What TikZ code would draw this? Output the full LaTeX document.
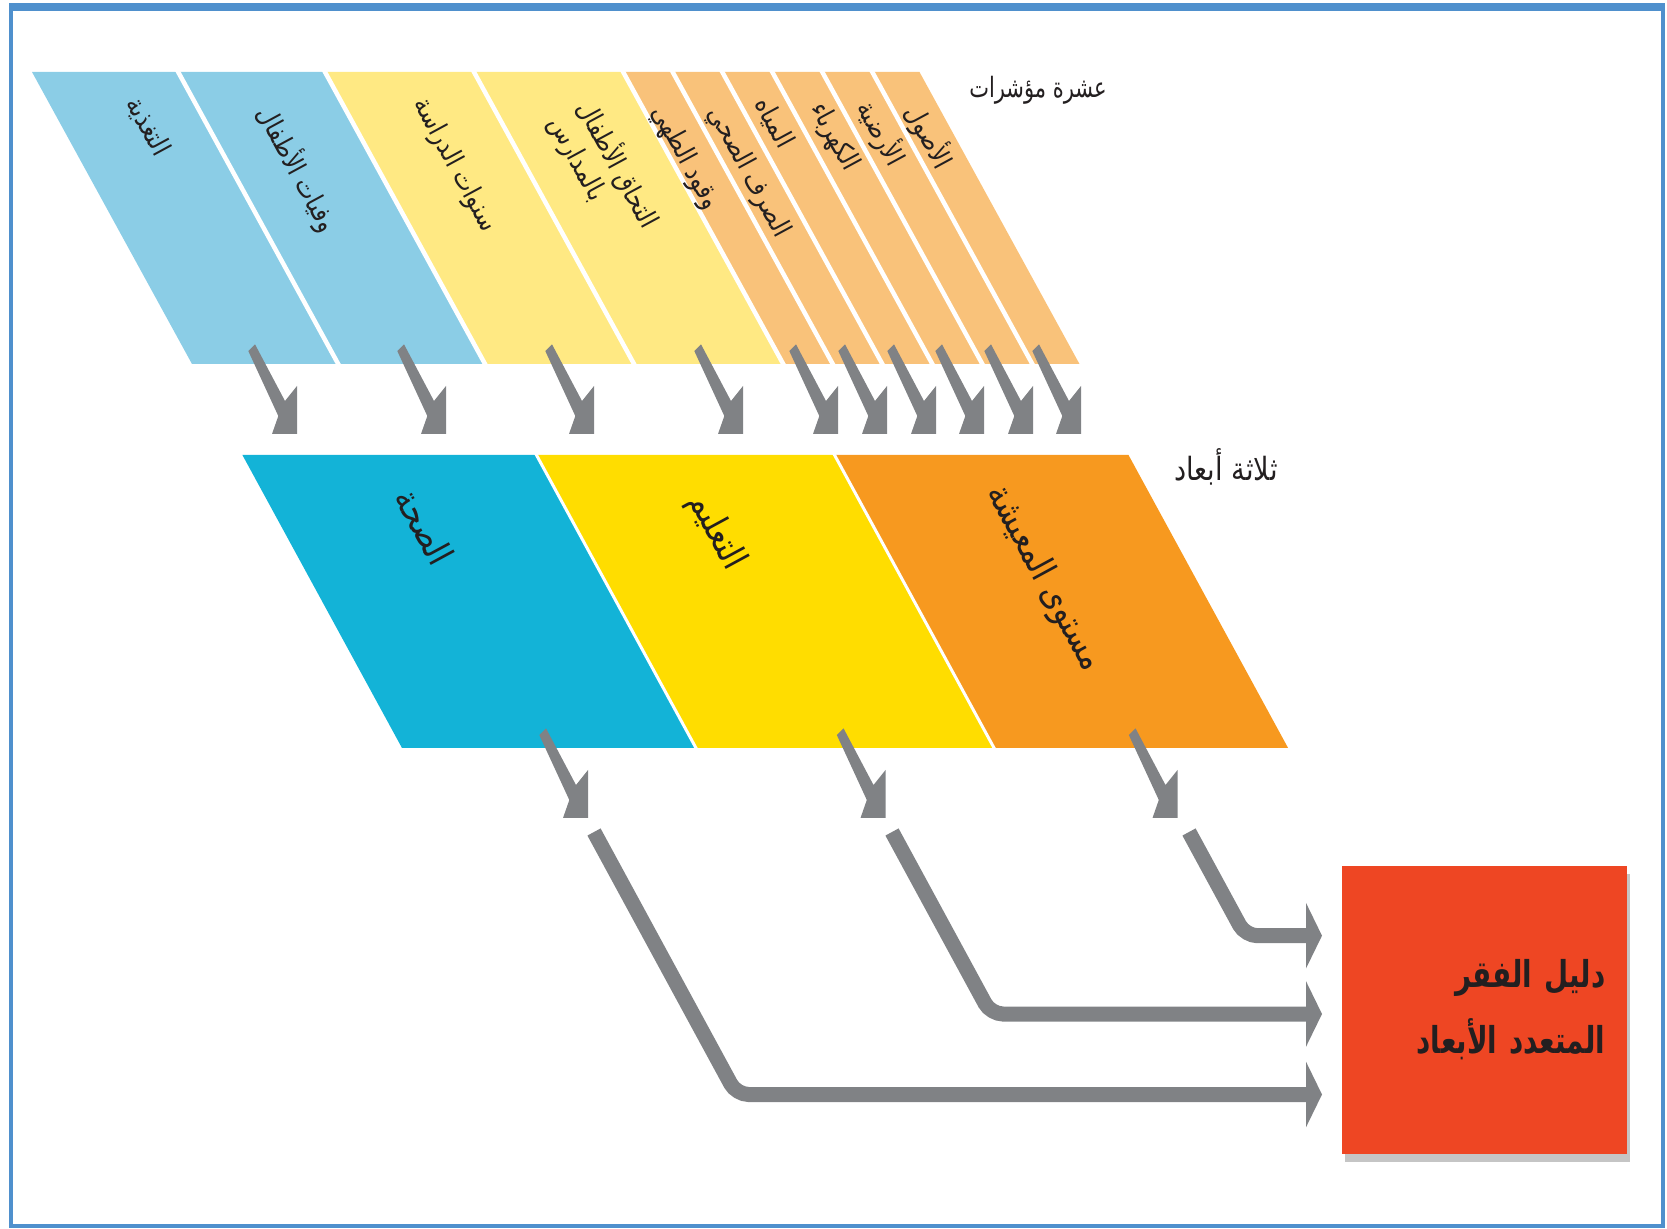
\documentclass[tikz,border=0pt]{standalone}
\usepackage{fontspec}
\usetikzlibrary{arrows.meta,shadows}
\newfontfamily\arabicfont[Script=Arabic]{DejaVu Sans}
\newfontfamily\arabiccond[Script=Arabic, FakeStretch=0.85]{DejaVu Sans}
\newfontfamily\arabicnarrow[Script=Arabic, FakeStretch=0.75]{DejaVu Sans}
\TeXXeTstate=1
\definecolor{lblue}{HTML}{8BCDE6}
\definecolor{lyellow}{HTML}{FFE983}
\definecolor{lorange}{HTML}{F9C27A}
\definecolor{dblue}{HTML}{13B3D7}
\definecolor{dyellow}{HTML}{FFDD00}
\definecolor{dorange}{HTML}{F7991F}
\definecolor{mpired}{HTML}{EE4623}
\definecolor{arrowgrey}{HTML}{808285}
\definecolor{frameblue}{HTML}{4F90CD}
\definecolor{txtcol}{HTML}{231F20}
\newcommand\dnarrow[2]{\fill[arrowgrey, shift={(#1,#2)}] (-48.7,-83) -- (-42,-89.7) -- (-12,-33) -- (0,-48) -- (0,0) -- (-25,0) -- (-18.7,-18) -- cycle;}
\begin{document}
\begin{tikzpicture}[x=0.5pt,y=-0.5pt,
  indtext/.style={rotate=-61.5, font=\arabiccond\fontsize{13.5}{16}\selectfont, text=txtcol, inner sep=0pt, align=left},
  dimtext/.style={rotate=-61.5, font=\arabiccond\fontsize{18}{20}\selectfont, text=txtcol, inner sep=0pt},
  lbltext/.style={font=\arabicnarrow\fontsize{14}{16}\selectfont, text=txtcol, inner sep=0pt},
  sepline/.style={white, line width=2.25pt},
  bent/.style={draw=arrowgrey, line width=7.5pt, rounded corners=6pt, -{Triangle[length=8pt,width=32.5pt]}}
]
\useasboundingbox (0,0) rectangle (1667,1229);
% frame
\draw[frameblue, line width=2pt] (10.5,7) rectangle (1663,1226);
\fill[frameblue] (8.5,3) rectangle (1665,11);

% ten indicators
\fill[lblue]   (32,72) -- (325,72) -- (485,364) -- (192,364) -- cycle;
\fill[lyellow] (325,72) -- (623.2,72) -- (783.2,364) -- (485,364) -- cycle;
\fill[lorange] (623.2,72) -- (919.5,72) -- (1079.5,364) -- (783.2,364) -- cycle;
\foreach \s in {178.2,325,474,623.2,672.7,722.3,772.3,822.3,872.3}
  {\draw[sepline] (\s-6.6,60) -- (\s+166.6,376);}

\node[indtext] (t1) at (148,126.5) {\beginR التغذية\endR};
\node[indtext] (t2) at (297.5,169) {\beginR وفيات الأطفال\endR};
\node[indtext] (t3) at (454.5,165) {\beginR سنوات الدراسة\endR};
\node[indtext] (t4) at (604,172) {\beginR التحاق الأطفال\endR\\\beginR بالمدارس\endR};
\node[indtext] (t5) at (685,158) {\beginR وقود الطهي\endR};
\node[indtext] (t6) at (748.5,172.5) {\beginR الصرف الصحي\endR};
\node[indtext] (t7) at (774,123) {\beginR المياه\endR};
\node[indtext] (t8) at (834,137) {\beginR الكهرباء\endR};
\node[indtext] (t9) at (881,133) {\beginR الأرضية\endR};
\node[indtext] (t10) at (929,136.5) {\beginR الأصول\endR};
\node[lbltext] (lab1) at (1038,90) {\beginR عشرة مؤشرات\endR};

% arrows indicators -> dimensions
\foreach \xr in {297,446,594,743,838,887,936,984,1033,1081}
  {\dnarrow{\xr}{434}}

% three dimensions
\fill[dblue]   (242.4,455) -- (536.4,455) -- (696,748) -- (402,748) -- cycle;
\fill[dyellow] (536.4,455) -- (834.5,455) -- (994.1,748) -- (696,748) -- cycle;
\fill[dorange] (834.5,455) -- (1128.5,455) -- (1288.1,748) -- (994.1,748) -- cycle;
\foreach \s in {536.4,834.5}
  {\draw[sepline, line width=1.5pt] (\s-6.5,443) -- (\s+166.1,760);}

\node[dimtext] (d1) at (425,526.5) {\beginR الصحة\endR};
\node[dimtext] (d2) at (716,532) {\beginR التعليم\endR};
\node[dimtext] (d3) at (1044,578.5) {\beginR مستوى المعيشة\endR};
\node[lbltext, font=\arabiccond\fontsize{16}{18}\selectfont] (lab2) at (1226,467) {\beginR ثلاثة أبعاد\endR};

\foreach \xr in {588,885.5,1177.5}
  {\dnarrow{\xr}{818}}

% MPI box
\node[fill=mpired, minimum width=142.5pt, minimum height=143.5pt, text width=121.5pt,
      inner xsep=10.5pt, align=right, text=txtcol,
      font=\arabicnarrow\bfseries\fontsize{18.5}{33}\selectfont,
      drop shadow={shadow xshift=1.5pt, shadow yshift=-4pt, fill=black!45}]
  (mpi) at (1484,1010) {\beginR دليل الفقر\endR\\\beginR المتعدد الأبعاد\endR};

% bent connectors
\coordinate (sA) at (594,832);   \coordinate (cA) at (736.5,1094.5); \coordinate (eA) at (1322,1094.5);
\coordinate (sB) at (892,832);   \coordinate (cB) at (990.8,1014);   \coordinate (eB) at (1322,1014);
\coordinate (sC) at (1189,832);  \coordinate (cC) at (1245.3,935.7); \coordinate (eC) at (1322,935.7);
\draw[bent] (sA) -- (cA) -- (eA);
\draw[bent] (sB) -- (cB) -- (eB);
\draw[bent] (sC) -- (cC) -- (eC);
\end{tikzpicture}
\end{document}
